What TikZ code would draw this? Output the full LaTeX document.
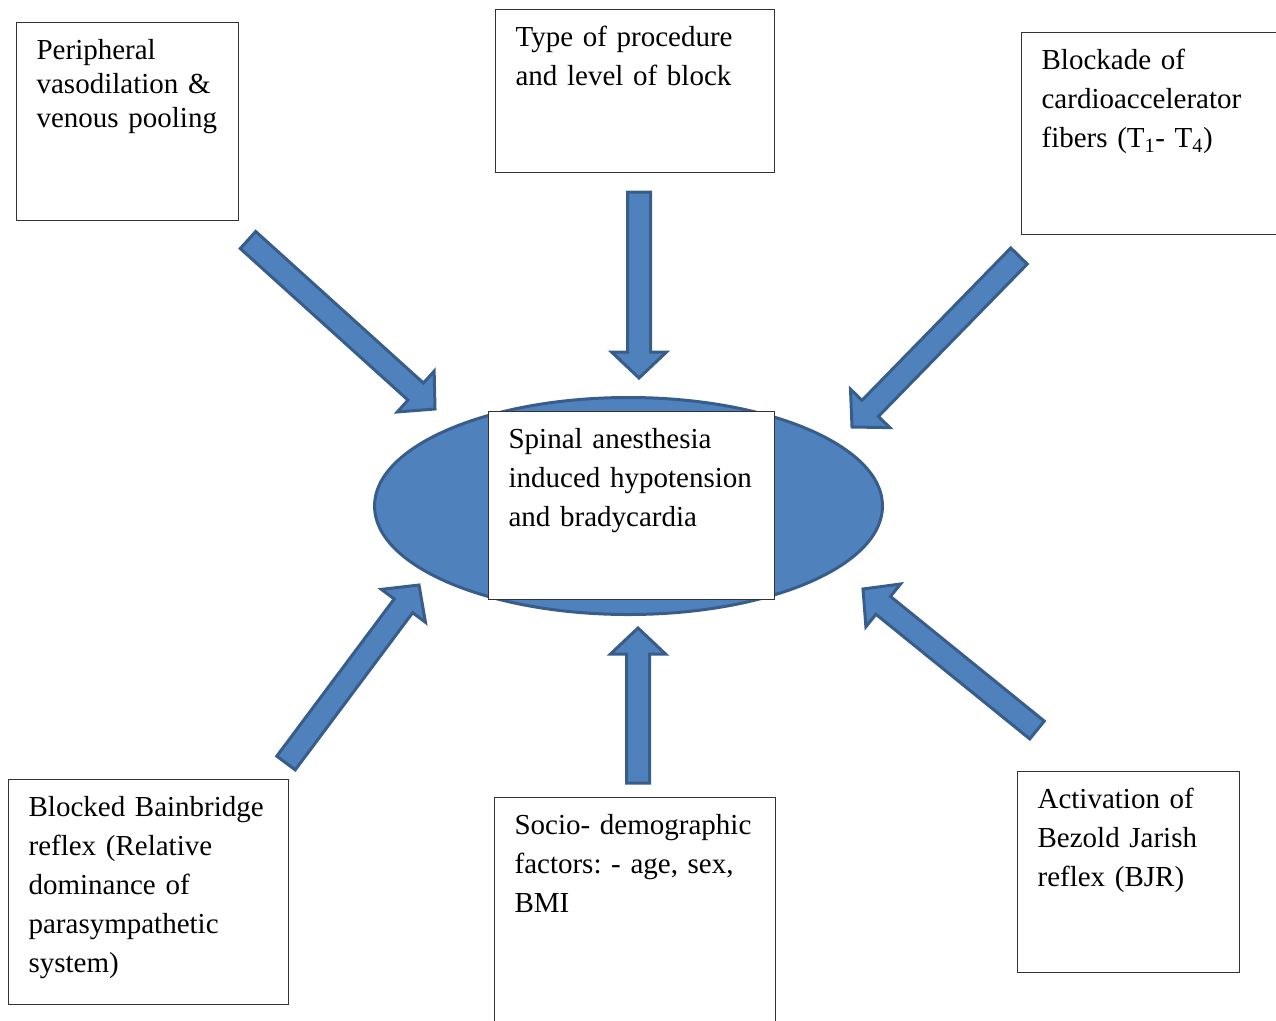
\documentclass[tikz,border=0pt]{standalone}
\usepackage{fontspec}
\setmainfont{Liberation Serif}
\usepackage{xcolor}
\definecolor{acc1}{HTML}{4F81BD}
\definecolor{acc1dark}{HTML}{385D8A}
\usepackage{tikz}
\usetikzlibrary{shapes.geometric,calc}
\frenchspacing

% block arrow from tail (#1) to tip (#2)
\newcommand{\bigarrow}[2]{%
  \coordinate (hb) at ($(#2)!26pt!(#1)$);
  \draw[fatarrow] ($(#1)!11.5pt!90:(#2)$) -- ($(hb)!11.5pt!-90:(#1)$)
    -- ($(hb)!27.5pt!-90:(#1)$) -- (#2) -- ($(hb)!27.5pt!90:(#1)$)
    -- ($(hb)!11.5pt!90:(#1)$) -- ($(#1)!11.5pt!-90:(#2)$) -- cycle;
}

\begin{document}
\begin{tikzpicture}[
  x=1pt, y=-1pt,
  box/.style={draw=black!80, line width=1.2pt, fill=white, anchor=north west,
    align=left, inner xsep=20pt, inner ysep=0pt, text height=37pt,
    font=\fontsize{29}{39}\selectfont},
  hub/.style={ellipse, draw=acc1dark, fill=acc1, line width=3pt, inner sep=0pt},
  fatarrow/.style={draw=acc1dark, fill=acc1, line width=3pt, line join=miter}
  ]
  \useasboundingbox (0,0) rectangle (1276,1020);

  % causes
  \node[box, text width=182pt, text depth=161pt,
    font=\fontsize{29}{33.7}\selectfont] (periph) at (16,22)
    {Peripheral\\vasodilation \&\\\mbox{venous pooling}};
  \node[box, text width=239pt, text depth=126pt] (proc) at (495,9)
    {Type of procedure\\and level of block};
  \node[box, text width=230pt, text depth=165pt] (cardio) at (1021,32)
    {Blockade of\\cardioaccelerator\\fibers (T\textsubscript{1}- T\textsubscript{4})};
  \node[box, text width=240pt, text depth=188pt] (bain) at (8,779)
    {Blocked Bainbridge\\reflex (Relative\\dominance of\\parasympathetic\\system)};
  \node[box, text width=241pt, text depth=203pt] (socio) at (494,797)
    {Socio- demographic\\factors: - age, sex,\\BMI};
  \node[box, text width=182pt, text depth=164pt] (bezold) at (1017,771)
    {Activation of\\Bezold Jarish\\reflex (BJR)};

  % centre
  \node[hub, minimum width=508pt, minimum height=217pt] (core) at (628.5,506) {};
  \node[box, text width=246pt, text depth=151pt] (spinal) at (488,411)
    {Spinal anesthesia\\induced hypotension\\and bradycardia};

  % arrows
  \coordinate (t1) at (248,240);  \coordinate (p1) at (435,409);
  \coordinate (t2) at (639,192);  \coordinate (p2) at (639,378);
  \coordinate (t3) at (1019,256); \coordinate (p3) at (852,427);
  \coordinate (t4) at (286,763);  \coordinate (p4) at (419,585);
  \coordinate (t5) at (638,783);  \coordinate (p5) at (638,628);
  \coordinate (t6) at (1037,730); \coordinate (p6) at (863,589);
  \foreach \i in {1,...,6}{\bigarrow{t\i}{p\i}}
\end{tikzpicture}
\end{document}
